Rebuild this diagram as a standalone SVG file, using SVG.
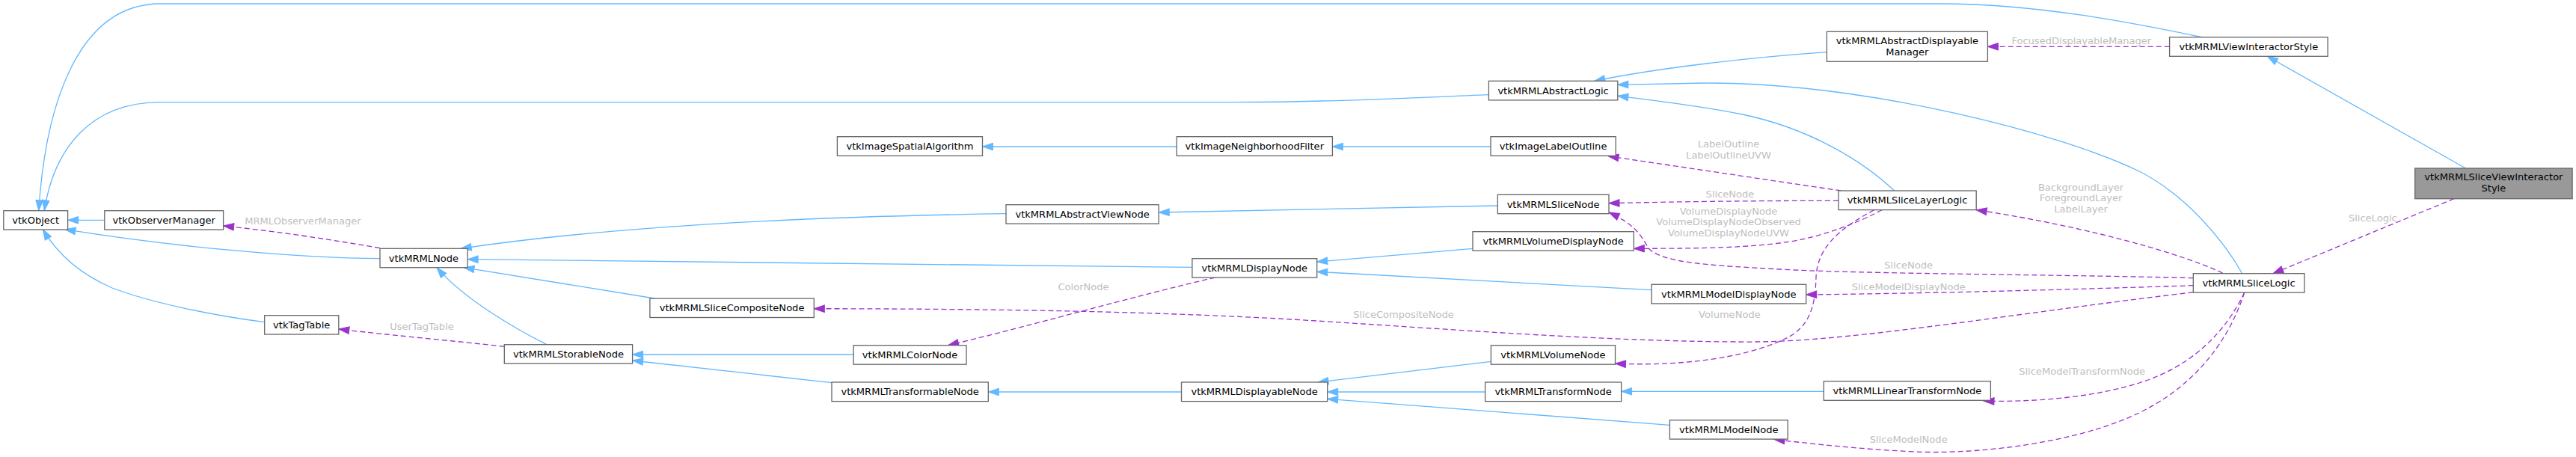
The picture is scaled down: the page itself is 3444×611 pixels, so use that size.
<svg xmlns="http://www.w3.org/2000/svg" width="3444" height="611" viewBox="0 0 3444 611">
<style>
.n rect{fill:#ffffff;stroke:#666666;stroke-width:1.3}
.cur rect{fill:#999999;stroke:#666666;stroke-width:1.3}
text{font-family:"DejaVu Sans","Liberation Sans",sans-serif;font-size:13.05px;text-anchor:middle}
.n text{fill:#000000}
.lb{fill:#bebebe}
.e{fill:none;stroke:#63b8ff;stroke-width:1.3;marker-end:url(#ab)}
.d{fill:none;stroke:#9a32cd;stroke-width:1.3;stroke-dasharray:7,4;marker-end:url(#ap)}
</style>
<defs>
<marker id="ab" markerUnits="userSpaceOnUse" markerWidth="16" markerHeight="12" refX="14" refY="4.8" orient="auto" overflow="visible"><path d="M0,0 L14,4.8 L0,9.6 z" fill="#63b8ff" stroke="#63b8ff" stroke-width="1"/></marker>
<marker id="ap" markerUnits="userSpaceOnUse" markerWidth="16" markerHeight="12" refX="14" refY="4.8" orient="auto" overflow="visible"><path d="M0,0 L14,4.8 L0,9.6 z" fill="#9a32cd" stroke="#9a32cd" stroke-width="1"/></marker>
</defs>
<rect width="3444" height="611" fill="#ffffff"/>
<g id="connectors">
<path class="e" d="M139.8,294.3 L90.6,294.3"/>
<path class="e" d="M508,345.7 C400,345 230,330 86.9,306.7"/>
<path class="e" d="M353.7,430.7 C280,421 200,404 150,385 C115,370 80,345 57.3,306.7"/>
<path class="e" d="M1990.4,126.7 C1900,130 1800,136.7 1650,136.7 L214.6,136.7 C120,136.7 72,200 59.2,281.7"/>
<path class="e" d="M2943.8,49.7 C2850,30 2720,5 2594.5,5 L214.6,5 C100,5 60,150 51.8,281.7"/>
<path class="e" d="M2442.4,69.7 C2350,76 2220,90 2131.8,108.3"/>
<path class="e" d="M2997.8,365.7 C2975,325 2925,262 2860,229 C2760,180 2500,111 2280,111 L2162.8,113.3"/>
<path class="e" d="M2532.7,255 C2490,215 2420,172 2330,153 C2270,141 2210,134 2162.8,128.3"/>
<path class="e" d="M3296.5,225 L3031.3,75.3"/>
<path class="e" d="M1573.2,196 L1313.5,196"/>
<path class="e" d="M1993,196 L1781.4,196"/>
<path class="e" d="M1345,285.7 C1050,290 800,305 616.2,332.3"/>
<path class="e" d="M2002.3,275 L1549.2,284"/>
<path class="e" d="M1593.9,357.3 L625.1,346.7"/>
<path class="e" d="M875.2,399 L620,357.7"/>
<path class="e" d="M730.9,460.7 C690,440 620,400 584,357.7"/>
<path class="e" d="M1141.1,474 L845.6,474"/>
<path class="e" d="M1112,511.7 L845.6,482"/>
<path class="e" d="M1579.5,524 L1321.3,524"/>
<path class="e" d="M1969,332.3 L1760.7,350"/>
<path class="e" d="M2208,387.7 L1760.7,363.3"/>
<path class="e" d="M1993.4,483.3 L1762,511"/>
<path class="e" d="M1985.6,524 L1774.7,524"/>
<path class="e" d="M2232.4,568.3 L1774.7,533.3"/>
<path class="e" d="M2438.3,523.3 L2167.6,523.3"/>
<path class="d" d="M508,331.7 C430,318 350,307 298.6,302"/>
<path class="d" d="M674.3,463.3 C600,455 520,448 452.8,440"/>
<path class="d" d="M1624.6,371 C1520,395 1380,435 1267.6,461.7"/>
<path class="d" d="M2932.3,390.7 C2700,418 2480,456 2350,457 C2150,458 1900,437 1710,426 C1500,415 1300,413 1088.3,412.7"/>
<path class="d" d="M2932.3,381.7 C2800,386 2600,392 2414.7,394"/>
<path class="d" d="M2932.3,371.7 C2750,367 2480,366 2380,360 C2290,355 2225,352 2205,333 C2195,318 2190,302 2151,284"/>
<path class="d" d="M2458,268.3 C2350,268.3 2250,269.5 2151,271.7"/>
<path class="d" d="M2461.3,255 L2150,208.7"/>
<path class="d" d="M2516,280.7 C2490,295 2440,316 2391,323.3 C2340,331 2280,332.3 2184.3,332.3"/>
<path class="d" d="M2505.7,280.7 C2460,305 2430,330 2428,370 C2427,410 2420,440 2380,456 C2330,478 2250,490 2159.5,486"/>
<path class="d" d="M2971.7,365 C2900,332 2760,298 2642.2,280.7"/>
<path class="d" d="M3000.7,391 C2975,445 2930,490 2860,512 C2800,531 2720,538 2652,536"/>
<path class="d" d="M3000.7,391 C2985,440 2950,500 2882,540 C2800,590 2650,608 2560,604 C2480,600 2420,593 2372,587.5"/>
<path class="d" d="M2900.6,62.3 L2657.4,62.3"/>
<path class="d" d="M3280.9,265.7 L3038.8,365.7"/>
<text class="lb" x="405" y="300.2">MRMLObserverManager</text>
<text class="lb" x="564" y="441.2">UserTagTable</text>
<text class="lb" x="1448.5" y="387.8">ColorNode</text>
<text class="lb" x="1876.5" y="425.2">SliceCompositeNode</text>
<text class="lb" x="2311" y="196.8">LabelOutline</text>
<text class="lb" x="2311" y="211.8">LabelOutlineUVW</text>
<text class="lb" x="2313" y="263.8">SliceNode</text>
<text class="lb" x="2311" y="286.8">VolumeDisplayNode</text>
<text class="lb" x="2311" y="301.2">VolumeDisplayNodeObserved</text>
<text class="lb" x="2311" y="316.2">VolumeDisplayNodeUVW</text>
<text class="lb" x="2312.4" y="424.8">VolumeNode</text>
<text class="lb" x="2551.7" y="358.5">SliceNode</text>
<text class="lb" x="2551.7" y="387.8">SliceModelDisplayNode</text>
<text class="lb" x="2782" y="254.5">BackgroundLayer</text>
<text class="lb" x="2782" y="269.3">ForegroundLayer</text>
<text class="lb" x="2782" y="283.8">LabelLayer</text>
<text class="lb" x="2782.8" y="58.8">FocusedDisplayableManager</text>
<text class="lb" x="2783.6" y="501.2">SliceModelTransformNode</text>
<text class="lb" x="2551.7" y="591.8">SliceModelNode</text>
<text class="lb" x="3172.3" y="296.2">SliceLogic</text>
</g>
<g id="vtkObject" class="n"><rect x="4.8" y="281.7" width="85.8" height="25.3"/><text x="47.7" y="298.8">vtkObject</text></g>
<g id="vtkObserverManager" class="n"><rect x="139.8" y="281.7" width="158.8" height="25.3"/><text x="219.2" y="298.8">vtkObserverManager</text></g>
<g id="vtkMRMLNode" class="n"><rect x="508" y="332.3" width="117.1" height="25.4"/><text x="566.5" y="349.5">vtkMRMLNode</text></g>
<g id="vtkTagTable" class="n"><rect x="353.7" y="421.7" width="99.1" height="25.3"/><text x="403.2" y="438.8">vtkTagTable</text></g>
<g id="vtkMRMLStorableNode" class="n"><rect x="674.3" y="460.7" width="171.3" height="25.3"/><text x="760" y="477.8">vtkMRMLStorableNode</text></g>
<g id="vtkMRMLSliceCompositeNode" class="n"><rect x="868.9" y="399" width="219.4" height="25.5"/><text x="978.6" y="416.2">vtkMRMLSliceCompositeNode</text></g>
<g id="vtkImageSpatialAlgorithm" class="n"><rect x="1119.4" y="182.7" width="194.1" height="25.6"/><text x="1216.5" y="200">vtkImageSpatialAlgorithm</text></g>
<g id="vtkMRMLColorNode" class="n"><rect x="1141.1" y="461.7" width="150.9" height="25.5"/><text x="1216.5" y="479">vtkMRMLColorNode</text></g>
<g id="vtkMRMLTransformableNode" class="n"><rect x="1112" y="511" width="209.3" height="25.6"/><text x="1216.6" y="528.3">vtkMRMLTransformableNode</text></g>
<g id="vtkMRMLAbstractViewNode" class="n"><rect x="1345" y="273.7" width="204.2" height="25.4"/><text x="1447.1" y="290.9">vtkMRMLAbstractViewNode</text></g>
<g id="vtkImageNeighborhoodFilter" class="n"><rect x="1573.2" y="182.7" width="208.2" height="25.6"/><text x="1677.3" y="200">vtkImageNeighborhoodFilter</text></g>
<g id="vtkMRMLDisplayNode" class="n"><rect x="1593.9" y="345.7" width="166.8" height="25.4"/><text x="1677.3" y="362.9">vtkMRMLDisplayNode</text></g>
<g id="vtkMRMLDisplayableNode" class="n"><rect x="1579.5" y="511" width="195.2" height="25.6"/><text x="1677.1" y="528.3">vtkMRMLDisplayableNode</text></g>
<g id="vtkMRMLAbstractLogic" class="n"><rect x="1990.4" y="108.3" width="172.4" height="25.6"/><text x="2076.6" y="125.6">vtkMRMLAbstractLogic</text></g>
<g id="vtkImageLabelOutline" class="n"><rect x="1993" y="182.7" width="167.2" height="25.6"/><text x="2076.6" y="200">vtkImageLabelOutline</text></g>
<g id="vtkMRMLSliceNode" class="n"><rect x="2002.3" y="260.3" width="148.7" height="25.4"/><text x="2076.65" y="277.5">vtkMRMLSliceNode</text></g>
<g id="vtkMRMLVolumeDisplayNode" class="n"><rect x="1969" y="309.7" width="215.3" height="25.4"/><text x="2076.65" y="326.9">vtkMRMLVolumeDisplayNode</text></g>
<g id="vtkMRMLVolumeNode" class="n"><rect x="1993.4" y="461.7" width="166.1" height="25.5"/><text x="2076.45" y="479">vtkMRMLVolumeNode</text></g>
<g id="vtkMRMLTransformNode" class="n"><rect x="1985.6" y="511" width="182" height="25.6"/><text x="2076.6" y="528.3">vtkMRMLTransformNode</text></g>
<g id="vtkMRMLModelDisplayNode" class="n"><rect x="2208" y="380.3" width="206.7" height="25.6"/><text x="2311.35" y="397.6">vtkMRMLModelDisplayNode</text></g>
<g id="vtkMRMLModelNode" class="n"><rect x="2232.4" y="561.7" width="157.8" height="25.4"/><text x="2311.3" y="578.9">vtkMRMLModelNode</text></g>
<g id="vtkMRMLAbstractDisplayableManager" class="n"><rect x="2442.4" y="42.3" width="215" height="40"/><text x="2549.9" y="59">vtkMRMLAbstractDisplayable</text><text x="2549.9" y="73.7">Manager</text></g>
<g id="vtkMRMLSliceLayerLogic" class="n"><rect x="2458" y="255" width="184.2" height="25.6"/><text x="2550.1" y="272.3">vtkMRMLSliceLayerLogic</text></g>
<g id="vtkMRMLLinearTransformNode" class="n"><rect x="2438.3" y="509.7" width="223.1" height="25.6"/><text x="2549.85" y="527">vtkMRMLLinearTransformNode</text></g>
<g id="vtkMRMLViewInteractorStyle" class="n"><rect x="2900.6" y="49.7" width="211.5" height="25.6"/><text x="3006.35" y="67">vtkMRMLViewInteractorStyle</text></g>
<g id="vtkMRMLSliceLogic" class="n"><rect x="2932.3" y="365.7" width="148.6" height="25.4"/><text x="3006.6" y="382.9">vtkMRMLSliceLogic</text></g>
<g id="vtkMRMLSliceViewInteractorStyle" class="n cur"><rect x="3228.7" y="225" width="210.4" height="40.7"/><text x="3333.9" y="241.3">vtkMRMLSliceViewInteractor</text><text x="3333.9" y="256.3">Style</text></g>
</svg>
